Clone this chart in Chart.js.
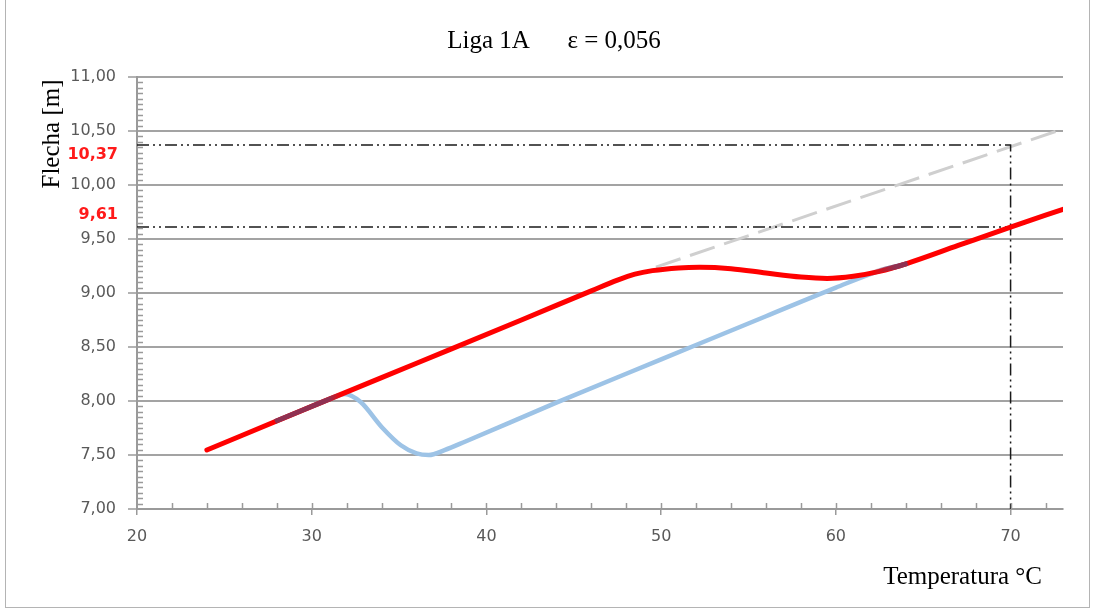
<!DOCTYPE html>
<html>
<head>
<meta charset="utf-8">
<script src="https://cdn.jsdelivr.net/npm/chart.js@4/dist/chart.umd.min.js"></script>
<style>
  html, body { margin: 0; padding: 0; background: #fff; }
  #wrap { position: relative; width: 1095px; height: 612px; }
  #frame { position: absolute; left: 5px; top: -1px; width: 1083px; height: 607px; border: 1px solid #b4b4b4; pointer-events: none; }
  canvas { position: absolute; left: 0; top: 0; }
</style>
</head>
<body>
<div id="wrap">
  <canvas id="chart" width="1095" height="612"></canvas>
  <div id="frame"></div>
</div>
<script>
// Sag (flecha) versus conductor temperature
const chartTitle = 'Liga 1A      \u03b5 = 0,056';
const xTitle = 'Temperatura \u00b0C';
const yTitle = 'Flecha [m]';

// Red curve: sag with creep effect
const redTemp = [24, 30, 36, 42, 46, 47.5, 48.5, 49.5, 51, 52.2, 54, 56, 58, 59.5, 61, 62.5, 64.1, 67, 70, 73];
const redSag  = [7.546, 7.95, 8.35, 8.75, 9.02, 9.12, 9.175, 9.207, 9.232, 9.238, 9.225, 9.185, 9.148, 9.135, 9.155, 9.2, 9.275, 9.44, 9.61, 9.775];

// Blue curve: initial sag
const blueTemp = [27.9, 30, 31.2, 31.9, 32.8, 34.0, 35.1, 36.0, 36.7, 37.6, 38.8, 44, 50, 56, 60, 62.5, 64.1];
const blueSag  = [7.81, 7.95, 8.03, 8.065, 7.99, 7.76, 7.59, 7.515, 7.50, 7.545, 7.625, 7.985, 8.385, 8.785, 9.05, 9.205, 9.275];

// Where both curves share the same path
const sharedTempA = [27.9, 29.5, 31.2, 31.7];
const sharedSagA  = [7.81, 7.917, 8.03, 8.06];
const sharedTempB = [62.0, 62.8, 63.5, 64.1];
const sharedSagB  = [9.185, 9.22, 9.245, 9.275];

// Grey dashed extension
const greyTemp = [49.7, 72.65];
const greySag  = [9.24, 10.50];

// Reading at 70 °C
const readTemp = 70;
const readHigh = 10.37;
const readLow = 9.61;

// Axis ranges and ticks
const xMin = 20, xMax = 73, xStep = 10, xMinorStep = 2;
const yMin = 7, yMax = 11, yStep = 0.5, yMinorStep = 0.05;

const fmt = v => v.toFixed(2).replace('.', ',');
const pts = (xs, ys) => xs.map((x, i) => ({ x, y: ys[i] }));

const tickFont = { family: 'DejaVu Sans', size: 16 };
const tickColor = '#595959';
const gridColor = '#a3a3a3';
const axisColor = '#9a9a9a';

function sharedGradient(from, to, fadeIn) {
  return (ctx) => {
    const chart = ctx.chart;
    const xs = chart.scales.x;
    if (!xs || !chart.chartArea) return '#8f3152';
    const x0 = xs.getPixelForValue(from), x1 = xs.getPixelForValue(to);
    const g = chart.ctx.createLinearGradient(x0, 0, x1, 0);
    if (fadeIn) {
      g.addColorStop(0, 'rgba(143,49,82,0)');
      g.addColorStop(1, 'rgba(143,49,82,1)');
    } else {
      g.addColorStop(0, 'rgba(143,49,82,1)');
      g.addColorStop(1, 'rgba(143,49,82,0)');
    }
    return g;
  };
}

const decorations = {
  id: 'decorations',
  afterDraw(chart) {
    const { ctx, chartArea: a, scales: { x, y } } = chart;
    ctx.save();

    // minor ticks (inside) and inner part of major x ticks
    ctx.strokeStyle = axisColor;
    ctx.lineWidth = 1.5;
    ctx.beginPath();
    for (let t = xMin + xMinorStep; t <= xMax + 1e-9; t += xMinorStep) {
      const px = Math.round(x.getPixelForValue(t)) + 0.5;
      ctx.moveTo(px, a.bottom);
      ctx.lineTo(px, a.bottom - 6);
    }
    const ny = Math.round((yMax - yMin) / yMinorStep);
    for (let i = 1; i < ny; i++) {
      const v = yMin + i * yMinorStep;
      if (i % Math.round(yStep / yMinorStep) === 0) continue;
      const py = Math.round(y.getPixelForValue(v)) + 0.5;
      ctx.moveTo(a.left, py);
      ctx.lineTo(a.left + 6, py);
    }
    ctx.stroke();

    // titles
    ctx.fillStyle = '#000';
    ctx.font = '25px "Liberation Serif"';
    ctx.textAlign = 'center';
    ctx.textBaseline = 'middle';
    ctx.fillText(chartTitle, 554, 41);

    ctx.textAlign = 'right';
    ctx.fillText(xTitle, a.right - 21, 577);

    ctx.save();
    ctx.translate(52, y.getPixelForValue(yMax) + 57);
    ctx.rotate(-Math.PI / 2);
    ctx.textAlign = 'center';
    ctx.fillText(yTitle, 0, 0);
    ctx.restore();

    // reading labels
    ctx.fillStyle = '#ff1a1a';
    ctx.font = 'bold 16px "DejaVu Sans"';
    ctx.textAlign = 'right';
    ctx.fillText(fmt(readHigh), 118, y.getPixelForValue(readHigh) + 10);
    ctx.fillText(fmt(readLow), 118, y.getPixelForValue(readLow) - 12);

    ctx.restore();
  }
};

new Chart(document.getElementById('chart'), {
  type: 'line',
  data: {
    datasets: [
      {
        label: 'sharedA', data: pts(sharedTempA, sharedSagA), order: 0,
        borderColor: sharedGradient(31.0, 31.7, false), borderWidth: 5,
        pointRadius: 0, tension: 0.3, borderCapStyle: 'butt'
      },
      {
        label: 'sharedB', data: pts(sharedTempB, sharedSagB), order: 0,
        borderColor: sharedGradient(62.0, 63.4, true), borderWidth: 5,
        pointRadius: 0, tension: 0.3, borderCapStyle: 'butt'
      },
      {
        label: 'red', data: pts(redTemp, redSag), order: 1,
        borderColor: '#ff0000', borderWidth: 5, pointRadius: 0,
        cubicInterpolationMode: 'monotone', borderCapStyle: 'round'
      },
      {
        label: 'blue', data: pts(blueTemp, blueSag), order: 2,
        borderColor: '#9dc3e6', borderWidth: 4.5, pointRadius: 0,
        cubicInterpolationMode: 'monotone', borderCapStyle: 'round'
      },
      {
        label: 'readHigh', data: pts([xMin, readTemp, readTemp], [readHigh, readHigh, yMin]), order: 3,
        borderColor: '#1a1a1a', borderWidth: 1.5, pointRadius: 0, tension: 0,
        borderDash: [12, 4, 2, 4, 2, 4]
      },
      {
        label: 'readLow', data: pts([xMin, readTemp], [readLow, readLow]), order: 3,
        borderColor: '#1a1a1a', borderWidth: 1.5, pointRadius: 0, tension: 0,
        borderDash: [12, 4, 2, 4, 2, 4]
      },
      {
        label: 'grey', data: pts(greyTemp, greySag), order: 4,
        borderColor: '#cfcfcf', borderWidth: 3, pointRadius: 0, tension: 0,
        borderDash: [26, 10]
      }
    ]
  },
  options: {
    responsive: false,
    animation: false,
    events: [],
    layout: { padding: { top: 77, right: 32, left: 0, bottom: 0 } },
    plugins: {
      legend: { display: false },
      tooltip: { enabled: false },
      title: { display: false }
    },
    scales: {
      x: {
        type: 'linear', min: xMin, max: xMax,
        ticks: { stepSize: xStep, includeBounds: false, font: tickFont, color: tickColor, padding: 12, maxRotation: 0 },
        grid: { drawOnChartArea: false, drawTicks: true, tickLength: 6, color: axisColor, lineWidth: 1.5 },
        border: { color: axisColor, width: 2 },
        afterFit: (s) => { s.height = 103; }
      },
      y: {
        type: 'linear', min: yMin, max: yMax,
        ticks: { stepSize: yStep, font: tickFont, color: tickColor, padding: 12, callback: (v) => fmt(v) },
        grid: { color: gridColor, lineWidth: 2, drawTicks: true, tickLength: 9, tickColor: axisColor, tickWidth: 1.5 },
        border: { color: axisColor, width: 2 },
        afterFit: (s) => { s.width = 137; }
      }
    }
  },
  plugins: [decorations]
});
</script>
</body>
</html>
